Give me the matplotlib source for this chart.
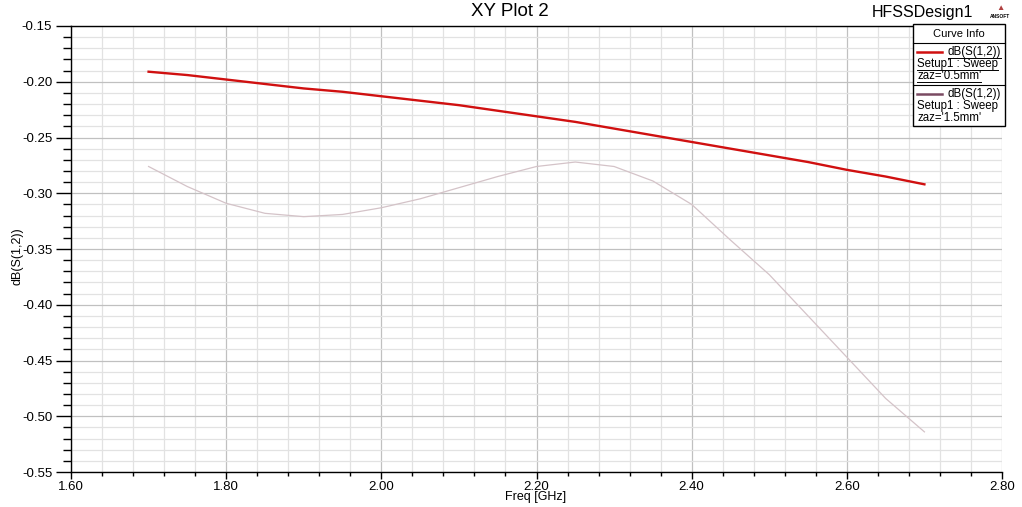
import matplotlib
matplotlib.use("Agg")
import matplotlib.pyplot as plt
import numpy as np
from matplotlib.ticker import MultipleLocator, FormatStrFormatter
from matplotlib.patches import Rectangle
from matplotlib.lines import Line2D

plt.rcParams['font.family'] = ['Liberation Sans', 'DejaVu Sans']

freq = [1.70, 1.75, 1.80, 1.85, 1.90, 1.95, 2.00, 2.05, 2.10, 2.15, 2.20,
        2.25, 2.30, 2.35, 2.40, 2.45, 2.50, 2.55, 2.60, 2.65, 2.70]
s12_05mm = [-0.191, -0.194, -0.198, -0.202, -0.206, -0.209, -0.213, -0.217,
            -0.221, -0.226, -0.231, -0.236, -0.242, -0.248, -0.254, -0.260,
            -0.266, -0.272, -0.279, -0.285, -0.292]
s12_15mm = [-0.276, -0.294, -0.309, -0.318, -0.321, -0.319, -0.313, -0.305,
            -0.295, -0.285, -0.276, -0.272, -0.276, -0.289, -0.310, -0.342,
            -0.373, -0.410, -0.447, -0.484, -0.514]

W, H = 1022, 507
fig = plt.figure(figsize=(W / 100, H / 100), dpi=100)
ax = fig.add_axes([71 / W, 1 - 472 / H, (1002 - 71) / W, (472 - 26) / H])

ax.set_xlim(1.60, 2.80)
ax.set_ylim(-0.55, -0.15)
ax.xaxis.set_major_locator(MultipleLocator(0.2))
ax.xaxis.set_minor_locator(MultipleLocator(0.04))
ax.yaxis.set_major_locator(MultipleLocator(0.05))
ax.yaxis.set_minor_locator(MultipleLocator(0.01))
ax.xaxis.set_major_formatter(FormatStrFormatter('%.2f'))
ax.yaxis.set_major_formatter(FormatStrFormatter('%.2f'))
ax.grid(which='major', color='#c0c0c0', lw=0.9)
ax.grid(which='minor', color='#e2e2e2', lw=0.9)
ax.set_axisbelow(True)
ax.tick_params(axis='x', which='major', direction='out', length=5, width=1,
               labelsize=9.5, pad=1.5)
ax.tick_params(axis='x', which='minor', direction='out', length=3, width=1)
ax.tick_params(axis='y', which='major', direction='out', length=11, width=1,
               labelsize=9.5, pad=2.5)
ax.tick_params(axis='y', which='minor', direction='out', length=6, width=1)
for s in ax.spines.values():
    s.set_linewidth(1)
ax.spines['right'].set_visible(False)

ax.plot(freq, s12_15mm, color='#d4c3c8', lw=0.9)
ax.plot(freq, s12_05mm, color='#d01010', lw=1.7)

fig.text(536 / W, 1 - 497 / H, 'Freq [GHz]', ha='center', va='center', fontsize=9)
fig.text(18 / W, 1 - 256 / H, 'dB(S(1,2))', ha='center', va='center', fontsize=9, rotation=90)

fig.text(510 / W, 1 - 12 / H, 'XY Plot 2', ha='center', va='center', fontsize=13.5)
fig.text(922 / W, 1 - 12 / H, 'HFSSDesign1', ha='center', va='center', fontsize=11.5)
fig.text(1000 / W, 1 - 17 / H, 'ANSOFT', ha='center', va='center', fontsize=3.5, weight='bold')
fig.text(1000 / W, 1 - 9 / H, '\u25B2', ha='center', va='center', fontsize=6, color='#b04040')

# legend box
lx0, lx1, ly0, ly1 = 913, 1005, 24, 126
fig.add_artist(Rectangle((lx0 / W, 1 - ly1 / H), (lx1 - lx0) / W, (ly1 - ly0) / H,
                         transform=fig.transFigure, facecolor='white', edgecolor='black', lw=1))
fig.text((lx0 + lx1) / 2 / W, 1 - 34 / H, 'Curve Info', ha='center', va='center', fontsize=8)
for yy in (43, 85):
    fig.add_artist(Line2D([lx0 / W, lx1 / W], [1 - yy / H, 1 - yy / H],
                          transform=fig.transFigure, color='black', lw=0.8))
entries = [('#d01010', "zaz='0.5mm'", 43, True), ('#7a4a62', "zaz='1.5mm'", 85, False)]
for col, lab, top, under in entries:
    fig.add_artist(Line2D([917 / W, 942 / W], [1 - (top + 9) / H] * 2,
                          transform=fig.transFigure, color=col, lw=1.8))
    for txt, x, y, ha in [('dB(S(1,2))', 1001, top + 9, 'right'),
                          ('Setup1 : Sweep', 917, top + 21, 'left'),
                          (lab, 917, top + 33, 'left')]:
        t = fig.text(x / W, 1 - y / H, txt, ha=ha, va='center', fontsize=8.3)
        if under:
            fig.canvas.draw()
            bb = t.get_window_extent()
            fig.add_artist(Line2D([bb.x0 / W, bb.x1 / W], [(bb.y0 + 0.5) / H] * 2,
                                  transform=fig.transFigure, color='black', lw=0.7))

fig.savefig('out.png', dpi=100, facecolor='white')
